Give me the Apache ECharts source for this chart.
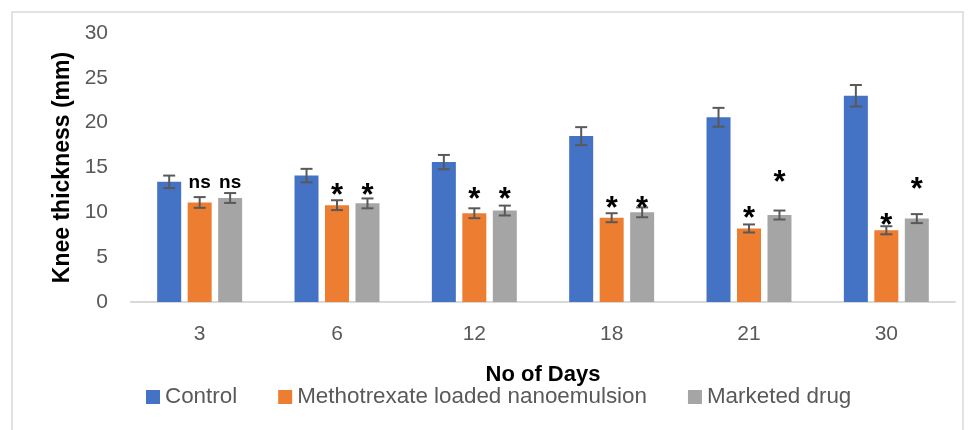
<!DOCTYPE html>
<html>
<head>
<meta charset="utf-8">
<script src="https://cdn.jsdelivr.net/npm/echarts@6/dist/echarts.min.js"></script>
<style>
html,body{margin:0;padding:0;background:#fff;}
#chart{width:976px;height:430px;}
</style>
</head>
<body>
<div id="chart"></div>
<script>
const categories = ['3', '6', '12', '18', '21', '30'];
const seriesNames = ['Control', 'Methotrexate loaded nanoemulsion', 'Marketed drug'];
const control = [13.4, 14.1, 15.6, 18.5, 20.6, 23.0];
const controlErr = [0.7, 0.75, 0.8, 1.0, 1.05, 1.2];
const mtx = [11.1, 10.8, 9.9, 9.4, 8.2, 8.0];
const mtxErr = [0.6, 0.55, 0.55, 0.5, 0.45, 0.45];
const marketed = [11.6, 11.0, 10.2, 10.0, 9.7, 9.3];
const marketedErr = [0.55, 0.55, 0.55, 0.55, 0.5, 0.5];
const mtxMark = ['ns', '*', '*', '*', '*', '*'];
const mtxMarkY = [13.3, 12.7, 12.2, 11.2, 10.1, 9.35];
const marketedMark = ['ns', '*', '*', '*', '*', '*'];
const marketedMarkY = [13.3, 12.7, 12.2, 11.2, 14.1, 13.3];
const yTicks = [0, 5, 10, 15, 20, 25, 30];

const colors = ['#4472C4', '#ED7D31', '#A5A5A5'];
const BAR_W = 24;
const BAR_GAP = 0.27;
const FONT = "'Liberation Sans', Arial, sans-serif";
const STAR_SIZE = 31;
const ASTERISK_DY = 8;

function barOffset(k) {
  return (k - 1) * (BAR_W * (1 + BAR_GAP));
}

function errSeries(k, vals, errs) {
  return {
    type: 'custom',
    name: 'err' + k,
    z: 5,
    silent: true,
    data: vals.map((v, i) => [i, v, errs[i]]),
    encode: { x: 0, y: 1 },
    renderItem: function (params, api) {
      const i = api.value(0), v = api.value(1), e = api.value(2);
      const top = api.coord([i, v + e]);
      const bot = api.coord([i, v - e]);
      const x = top[0] + barOffset(k);
      const cap = 6;
      const st = { stroke: '#595959', lineWidth: 2 };
      return {
        type: 'group',
        children: [
          { type: 'line', shape: { x1: x, y1: top[1], x2: x, y2: bot[1] }, style: st },
          { type: 'line', shape: { x1: x - cap, y1: top[1], x2: x + cap, y2: top[1] }, style: st },
          { type: 'line', shape: { x1: x - cap, y1: bot[1], x2: x + cap, y2: bot[1] }, style: st }
        ]
      };
    }
  };
}

function markSeries(k, marks, ys) {
  return {
    type: 'custom',
    name: 'mark' + k,
    z: 6,
    silent: true,
    data: ys.map((y, i) => [i, y]),
    encode: { x: 0, y: 1 },
    renderItem: function (params, api) {
      const p = api.coord([api.value(0), api.value(1)]);
      const t = marks[params.dataIndex];
      const isStar = t === '*';
      return {
        type: 'text',
        style: {
          text: t,
          x: p[0] + barOffset(k),
          y: p[1] + (isStar ? ASTERISK_DY : 0),
          align: 'center',
          verticalAlign: 'middle',
          fill: '#000',
          font: 'bold ' + (isStar ? STAR_SIZE : 19) + 'px ' + FONT
        }
      };
    }
  };
}

const chart = echarts.init(document.getElementById('chart'), null, { renderer: 'canvas' });
chart.setOption({
  animation: false,
  backgroundColor: '#fff',
  color: colors,
  graphic: [{
    type: 'rect',
    shape: { x: 12, y: 12, width: 951, height: 440 },
    style: { fill: 'none', stroke: '#d9d9d9', lineWidth: 1.5 },
    silent: true,
    z: -1
  }],
  grid: { left: 131, right: 21, top: 33, bottom: 128, containLabel: false },
  legend: {
    data: seriesNames,
    left: 141,
    top: 381,
    icon: 'rect',
    itemWidth: 14,
    itemHeight: 14,
    itemGap: 41,
    textStyle: { color: '#595959', fontSize: 22.4, fontFamily: FONT }
  },
  xAxis: {
    type: 'category',
    data: categories,
    axisTick: { show: false },
    axisLine: { lineStyle: { color: '#d9d9d9', width: 2 } },
    axisLabel: { color: '#595959', fontSize: 21, fontFamily: FONT, margin: 22 },
    name: 'No of Days',
    nameLocation: 'middle',
    nameGap: 62,
    nameTextStyle: { color: '#000', fontSize: 22, fontWeight: 'bold', fontFamily: FONT }
  },
  yAxis: {
    type: 'value',
    min: yTicks[0],
    max: yTicks[yTicks.length - 1],
    interval: yTicks[1] - yTicks[0],
    splitLine: { show: false },
    axisLine: { show: false },
    axisTick: { show: false },
    axisLabel: { color: '#595959', fontSize: 21, fontFamily: FONT, margin: 23 },
    name: 'Knee thickness (mm)',
    nameLocation: 'middle',
    nameRotate: 90,
    nameGap: 57,
    nameTextStyle: { color: '#000', fontSize: 23, fontWeight: 'bold', fontFamily: FONT }
  },
  series: [
    { type: 'bar', name: seriesNames[0], data: control, barWidth: BAR_W, barGap: (BAR_GAP * 100) + '%', itemStyle: { color: colors[0] } },
    { type: 'bar', name: seriesNames[1], data: mtx, barWidth: BAR_W, barGap: (BAR_GAP * 100) + '%', itemStyle: { color: colors[1] } },
    { type: 'bar', name: seriesNames[2], data: marketed, barWidth: BAR_W, barGap: (BAR_GAP * 100) + '%', itemStyle: { color: colors[2] } },
    errSeries(0, control, controlErr),
    errSeries(1, mtx, mtxErr),
    errSeries(2, marketed, marketedErr),
    markSeries(1, mtxMark, mtxMarkY),
    markSeries(2, marketedMark, marketedMarkY)
  ]
});
</script>
</body>
</html>
